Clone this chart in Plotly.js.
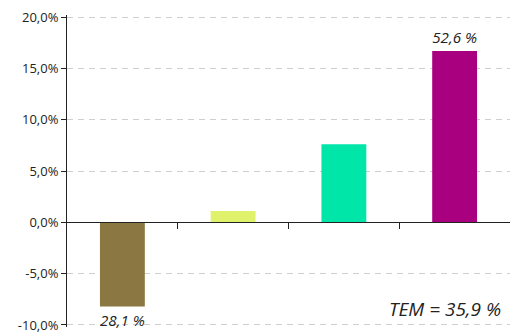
<!DOCTYPE html>
<html><head><meta charset="utf-8">
<script src="https://cdn.plot.ly/plotly-3.0.1.min.js"></script>
<style>html,body{margin:0;padding:0;background:#fff}#chart{width:510px;height:336px}</style>
</head><body><div id="chart"></div>
<script>
const categories = [1, 2, 3, 4];
const values = [-8.2, 1.1, 7.6, 16.7];
const barLabels = ["28,1 %", "", "", "52,6 %"];
const barColors = ["#8a7741", "#e0f26c", "#00e6a8", "#a8007f"];
const yTicks = [-10, -5, 0, 5, 10, 15, 20];
const yTickText = ["-10,0%", "-5,0%", "0,0%", "5,0%", "10,0%", "15,0%", "20,0%"];
const boundaries = [1.5, 2.5, 3.5];
const temText = "TEM = 35,9 %";

const font = "Open Sans, Noto Sans, sans-serif";
Plotly.newPlot("chart", [{
  type: "bar",
  x: categories,
  y: values,
  width: 0.405,
  marker: {color: barColors},
  text: barLabels,
  textposition: "outside",
  textfont: {family: font, size: 15.5, color: "#222", style: "italic"},
  cliponaxis: false,
  hoverinfo: "none"
}], {
  width: 510, height: 336,
  margin: {l: 67, r: 0, t: 15, b: 9},
  paper_bgcolor: "#fff", plot_bgcolor: "#fff",
  showlegend: false,
  font: {family: font, color: "#222"},
  xaxis: {
    range: [0.5, 4.5],
    anchor: "free", position: 10.2/30.4,
    showline: true, linecolor: "#222", linewidth: 1,
    tickvals: boundaries, ticks: "outside", ticklen: 6, tickcolor: "#222",
    showticklabels: false, showgrid: false, zeroline: false
  },
  yaxis: {
    range: [-10.2, 20.2],
    tickvals: yTicks, ticktext: yTickText,
    ticks: "outside", ticklen: 5, tickcolor: "#222",
    showline: true, linecolor: "#222", linewidth: 1,
    showgrid: true, gridcolor: "#cfcfcf", griddash: "6px,5px", gridwidth: 1,
    zeroline: false,
    tickfont: {family: font, size: 13, color: "#222"}
  },
  annotations: [{
    xref: "paper", yref: "paper", x: 0.985, y: 0.058,
    xanchor: "right", yanchor: "middle", showarrow: false,
    text: temText,
    font: {family: font, size: 19, color: "#222", style: "italic"}
  }]
}, {displayModeBar: false, staticPlot: true});
</script></body></html>
